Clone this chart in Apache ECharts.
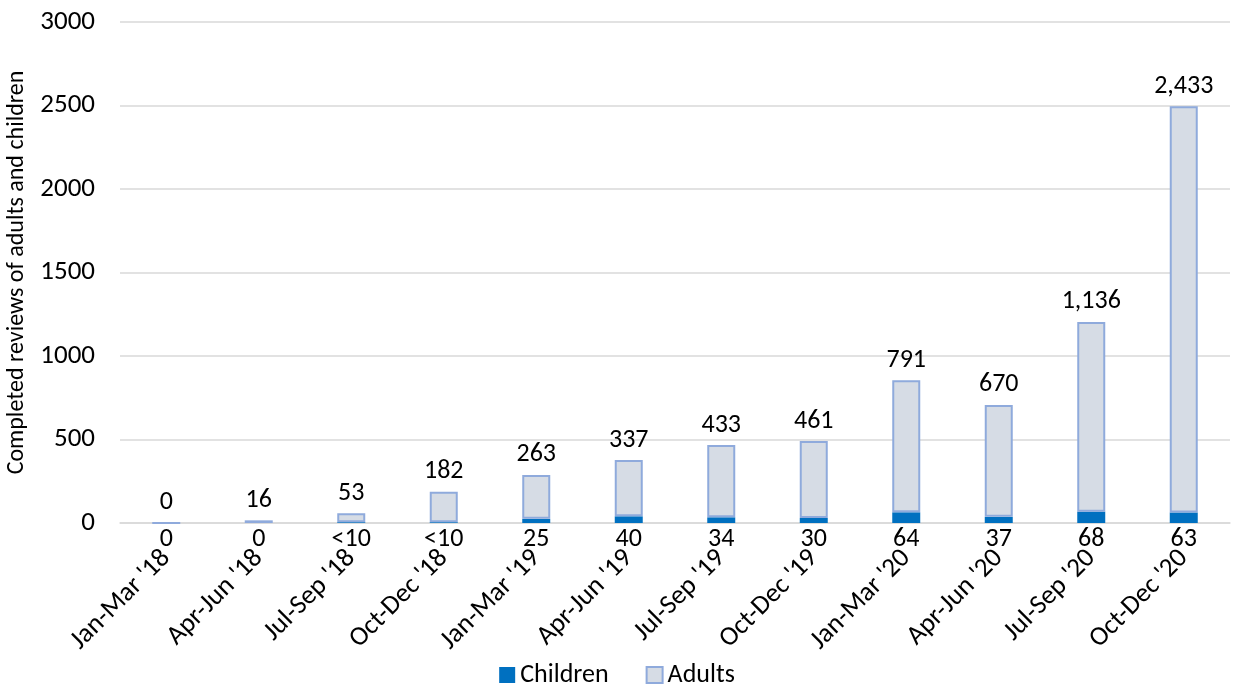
<!DOCTYPE html>
<html>
<head>
<meta charset="utf-8">
<script src="https://cdn.jsdelivr.net/npm/echarts@6/dist/echarts.min.js"></script>
<style>
  html, body { margin: 0; padding: 0; background: #fff; }
  #chart { width: 1234px; height: 688px; }
</style>
</head>
<body>
<div id="chart"></div>
<script>
// quarters
const categories = ["Jan-Mar '18", "Apr-Jun '18", "Jul-Sep '18", "Oct-Dec '18", "Jan-Mar '19", "Apr-Jun '19",
  "Jul-Sep '19", "Oct-Dec '19", "Jan-Mar '20", "Apr-Jun '20", "Jul-Sep '20", "Oct-Dec '20"];
// children: "<10" quarters drawn with an estimated small value
const childrenValues = [0, 0, 5, 5, 25, 40, 34, 30, 64, 37, 68, 63];
const childrenLabels = ["0", "0", "<10", "<10", "25", "40", "34", "30", "64", "37", "68", "63"];
const adultsValues = [0, 16, 53, 182, 263, 337, 433, 461, 791, 670, 1136, 2433];
const yTicks = [0, 500, 1000, 1500, 2000, 2500, 3000];

const FONT = "Carlito, Lato, 'Liberation Sans', sans-serif";

var myChart = echarts.init(document.getElementById('chart'));

var option = {
  animation: false,
  textStyle: { fontFamily: FONT },
  grid: { left: 120, right: 4, top: 22, bottom: 165, containLabel: false, outerBoundsMode: 'none' },
  legend: {
    bottom: -5,
    left: 'center',
    icon: 'rect',
    itemWidth: 16,
    itemHeight: 16,
    itemGap: 37,
    textStyle: { fontSize: 26, color: '#000', fontFamily: FONT },
    data: ['Children', 'Adults']
  },
  xAxis: {
    type: 'category',
    data: categories,
    axisLine: { lineStyle: { color: '#d9d9d9', width: 1.5 } },
    axisTick: { show: false },
    axisLabel: {
      rotate: 45,
      margin: 31,
      fontSize: 27,
      color: '#000',
      interval: 0
    }
  },
  yAxis: {
    type: 'value',
    min: yTicks[0],
    max: yTicks[yTicks.length - 1],
    interval: 500,
    name: 'Completed reviews of adults and children',
    nameLocation: 'middle',
    nameGap: 90,
    nameTextStyle: { fontSize: 24, color: '#000' },
    axisLine: { show: false },
    axisTick: { show: false },
    axisLabel: { fontSize: 27, color: '#000', margin: 25, formatter: function (v) { return String(v); } },
    splitLine: { lineStyle: { color: '#d9d9d9', width: 1.5 } }
  },
  series: [
    {
      name: 'Children',
      type: 'bar',
      stack: 'total',
      barWidth: 28,
      data: childrenValues,
      itemStyle: { color: '#0070C0' },
      label: {
        show: true,
        position: 'bottom',
        distance: 3,
        fontSize: 26,
        color: '#000',
        formatter: function (p) { return childrenLabels[p.dataIndex]; }
      }
    },
    {
      name: 'Adults',
      type: 'bar',
      stack: 'total',
      barWidth: 28,
      data: adultsValues,
      itemStyle: { color: '#D6DCE5', borderColor: '#8FAADC', borderWidth: 2 },
      label: {
        show: true,
        position: 'top',
        distance: 7,
        fontSize: 26,
        color: '#000',
        formatter: function (p) { return p.value.toLocaleString('en-US'); }
      }
    }
  ]
};
myChart.setOption(option);
</script>
</body>
</html>
